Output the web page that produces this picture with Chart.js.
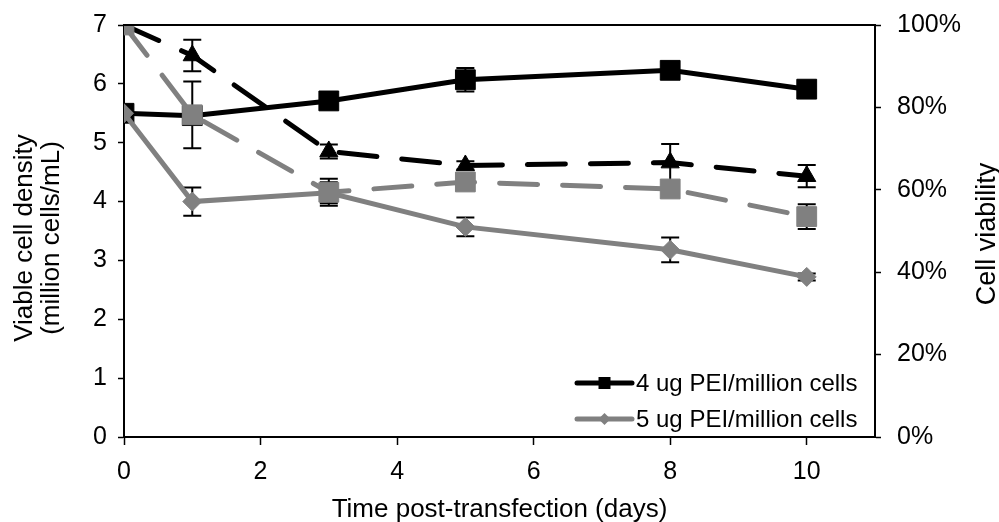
<!DOCTYPE html>
<html>
<head>
<meta charset="utf-8">
<script src="https://cdn.jsdelivr.net/npm/chart.js@4.4.1/dist/chart.umd.min.js"></script>
<style>
html,body{margin:0;padding:0;background:#fff;}
#wrap{width:999px;height:522px;position:relative;}
</style>
</head>
<body>
<div id="wrap"><canvas id="c"></canvas></div>
<script>
// ---- data ----
const days = [0, 1, 3, 5, 8, 10];
const vcd4 = [5.50, 5.46, 5.71, 6.07, 6.23, 5.91];
const vcd4Err = [0, 0.08, 0.08, 0.2, 0.1, 0.08];
const vcd5 = [5.50, 4.00, 4.15, 3.57, 3.18, 2.72];
const vcd5Err = [0, 0.24, 0.18, 0.16, 0.21, 0.06];
const via4 = [100, 92.6, 69.3, 65.9, 66.6, 63.3];
const via4Err = [0, 3.8, 1.7, 1.0, 4.5, 2.7];
const via5 = [100, 78.2, 59.4, 61.9, 60.2, 53.5];
const via5Err = [0, 8.1, 3.3, 1.0, 1.0, 3.0];
const xTicks = [0, 2, 4, 6, 8, 10];
const legendLabels = ['4 ug PEI/million cells', '5 ug PEI/million cells'];
const xTitle = 'Time post-transfection (days)';
const yTitle = ['Viable cell density', '(million cells/mL)'];
const y2Title = 'Cell viability';

const FAM = '"Liberation Sans", Arial, Helvetica, sans-serif';
const BLACK = '#000000';
const GRAY = '#808080';

function pts(vals) { return days.map((d, i) => ({ x: d, y: vals[i] })); }

const errorBars = {
  id: 'errorBars',
  beforeDatasetsDraw(chart) {
    const ctx = chart.ctx;
    ctx.save();
    ctx.strokeStyle = BLACK;
    ctx.lineWidth = 2;
    chart.data.datasets.forEach((ds) => {
      if (!ds.errors) return;
      const ys = chart.scales[ds.yAxisID];
      const xs = chart.scales.x;
      ds.data.forEach((p, i) => {
        const e = ds.errors[i];
        if (!e) return;
        const x = xs.getPixelForValue(p.x);
        const y1 = ys.getPixelForValue(p.y + e);
        const y2 = ys.getPixelForValue(p.y - e);
        ctx.beginPath();
        ctx.moveTo(x, y1); ctx.lineTo(x, y2);
        ctx.moveTo(x - 9, y1); ctx.lineTo(x + 9, y1);
        ctx.moveTo(x - 9, y2); ctx.lineTo(x + 9, y2);
        ctx.stroke();
      });
    });
    ctx.restore();
  }
};

const frameAndText = {
  id: 'frameAndText',
  afterDraw(chart) {
    const ctx = chart.ctx;
    const a = chart.chartArea;
    ctx.save();
    // top frame line
    ctx.strokeStyle = BLACK;
    ctx.lineWidth = 2;
    ctx.beginPath();
    ctx.moveTo(a.left, a.top);
    ctx.lineTo(a.right, a.top);
    ctx.stroke();

    // axis titles
    ctx.fillStyle = BLACK;
    ctx.textAlign = 'center';
    ctx.textBaseline = 'alphabetic';
    ctx.font = '26px ' + FAM;
    ctx.fillText(xTitle, (a.left + a.right) / 2, 517);

    const cyL = (a.top + a.bottom) / 2 + 7;
    ctx.save();
    ctx.translate(32, cyL);
    ctx.rotate(-Math.PI / 2);
    ctx.fillText(yTitle[0], 0, 0);
    ctx.restore();
    ctx.save();
    ctx.translate(59, cyL);
    ctx.rotate(-Math.PI / 2);
    ctx.fillText(yTitle[1], 0, 0);
    ctx.restore();
    ctx.font = '27px ' + FAM;
    ctx.save();
    ctx.translate(995, (a.top + a.bottom) / 2 + 3);
    ctx.rotate(-Math.PI / 2);
    ctx.fillText(y2Title, 0, 0);
    ctx.restore();

    // legend (inside plot, bottom right)
    const lx0 = a.right - 298, lx1 = a.right - 243, ltx = a.right - 239;
    const lys = [a.bottom - 54, a.bottom - 18];
    const cols = [BLACK, GRAY];
    ctx.font = '24px ' + FAM;
    ctx.textAlign = 'left';
    ctx.textBaseline = 'middle';
    lys.forEach((ly, i) => {
      ctx.strokeStyle = cols[i];
      ctx.fillStyle = cols[i];
      ctx.lineWidth = 5;
      ctx.lineCap = 'round';
      ctx.beginPath();
      ctx.moveTo(lx0, ly); ctx.lineTo(lx1, ly);
      ctx.stroke();
      const mx = (lx0 + lx1) / 2;
      ctx.beginPath();
      if (i === 0) {
        ctx.rect(mx - 6, ly - 6, 12, 12);
      } else {
        ctx.moveTo(mx - 6, ly); ctx.lineTo(mx, ly - 6); ctx.lineTo(mx + 6, ly); ctx.lineTo(mx, ly + 6); ctx.closePath();
      }
      ctx.fill();
      ctx.fillStyle = BLACK;
      ctx.fillText(legendLabels[i], ltx, ly + 1);
    });
    ctx.restore();
  }
};

const commonLine = { borderWidth: 5, pointBorderWidth: 1, showLine: true, fill: false, tension: 0 };

function fitV(s) { s.width = 124; s.paddingTop = 0; s.paddingBottom = 0; }

new Chart(document.getElementById('c'), {
  type: 'scatter',
  data: {
    datasets: [
      Object.assign({}, commonLine, {
        label: 'viability 5 ug', data: pts(via5), errors: via5Err, yAxisID: 'y2', order: 1,
        borderColor: GRAY, backgroundColor: GRAY, pointStyle: 'rect', pointRadius: 14, pointHoverRadius: 14,
        borderDash: [38, 25], borderCapStyle: 'round'
      }),
      Object.assign({}, commonLine, {
        label: legendLabels[1], data: pts(vcd5), errors: vcd5Err, yAxisID: 'y', order: 2,
        borderColor: GRAY, backgroundColor: GRAY, pointStyle: 'rectRot', pointRadius: 9.5, pointHoverRadius: 9.5
      }),
      Object.assign({}, commonLine, {
        label: legendLabels[0], data: pts(vcd4), errors: vcd4Err, yAxisID: 'y', order: 3,
        borderColor: BLACK, backgroundColor: BLACK, pointStyle: 'rect', pointRadius: 14, pointHoverRadius: 14
      }),
      Object.assign({}, commonLine, {
        label: 'viability 4 ug', data: pts(via4), errors: via4Err, yAxisID: 'y2', order: 4,
        borderColor: BLACK, backgroundColor: BLACK, pointStyle: 'triangle', pointRadius: 10.5, pointHoverRadius: 10.5,
        borderDash: [38, 25], borderCapStyle: 'round'
      })
    ]
  },
  options: {
    responsive: true,
    maintainAspectRatio: false,
    animation: false,
    devicePixelRatio: 1,
    layout: { padding: { top: 25, left: 0, right: 0, bottom: 0 } },
    plugins: { legend: { display: false }, tooltip: { enabled: false } },
    scales: {
      x: {
        type: 'linear', position: 'bottom', min: 0, max: 11,
        afterBuildTicks: s => { s.ticks = xTicks.map(v => ({ value: v })); },
        afterFit: s => { s.height = 85; s.paddingLeft = 0; s.paddingRight = 0; },
        grid: { drawOnChartArea: false, drawTicks: true, tickLength: 8, tickColor: BLACK, tickWidth: 1.5 },
        border: { display: true, color: BLACK, width: 2 },
        ticks: { color: BLACK, font: { size: 25, family: FAM }, padding: 12, maxRotation: 0, autoSkip: false }
      },
      y: {
        type: 'linear', position: 'left', min: 0, max: 7,
        afterFit: fitV,
        grid: { drawOnChartArea: false, tickLength: 6, tickColor: BLACK, tickWidth: 1.5 },
        border: { display: true, color: BLACK, width: 2 },
        ticks: { stepSize: 1, color: BLACK, font: { size: 25, family: FAM }, padding: 11 }
      },
      y2: {
        type: 'linear', position: 'right', min: 0, max: 100,
        afterFit: fitV,
        grid: { drawOnChartArea: false, tickLength: 6, tickColor: BLACK, tickWidth: 1.5 },
        border: { display: true, color: BLACK, width: 2 },
        ticks: { stepSize: 20, color: BLACK, font: { size: 25, family: FAM }, padding: 16, callback: v => v + '%' }
      }
    }
  },
  plugins: [errorBars, frameAndText]
});
</script>
</body>
</html>
